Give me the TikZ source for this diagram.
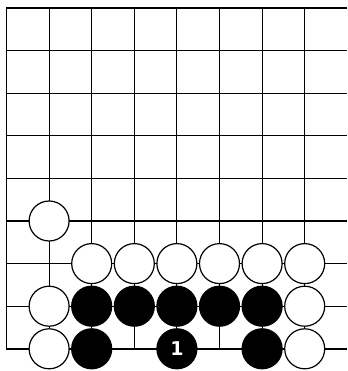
\documentclass[tikz,border=0pt]{standalone}
\usepackage{fontspec}
\newfontfamily\stonefont{DejaVu Sans}
\begin{document}
\begin{tikzpicture}[x=1pt,y=-1pt,
  grid/.style={line width=1.1pt,black},
  edge/.style={line width=1.4pt,black},
  wstone/.style={circle,draw=black,fill=white,line width=1.2pt,minimum size=40pt,inner sep=0pt},
  bstone/.style={circle,draw=black,fill=black,line width=1.2pt,minimum size=40pt,inner sep=0pt,text=white,font=\stonefont\bfseries\fontsize{19}{19}\selectfont}]
\useasboundingbox (0,0) rectangle (347,371);
\def\gx{42.6}
% grid lines
\foreach \i in {1,...,7} \draw[grid] ({6.5+\i*\gx},8) -- ({6.5+\i*\gx},348.8);
\foreach \j in {1,...,7} \draw[grid] (6.5,{8+\j*\gx}) -- (347,{8+\j*\gx});
\draw[edge] (347,8) -- (6.5,8) -- (6.5,348.8) -- (347,348.8);
% stones: col c, row r -> (6.5+c*gx, 8+r*gx)
\node[wstone] (w15) at ({6.5+1*\gx},{8+5*\gx}) {};
\foreach \c in {2,...,7} \node[wstone] (w\c6) at ({6.5+\c*\gx},{8+6*\gx}) {};
\node[wstone] (w17) at ({6.5+1*\gx},{8+7*\gx}) {};
\foreach \c in {2,...,6} \node[bstone] (b\c7) at ({6.5+\c*\gx},{8+7*\gx}) {};
\node[wstone] (w77) at ({6.5+7*\gx},{8+7*\gx}) {};
\node[wstone] (w18) at ({6.5+1*\gx},{8+8*\gx}) {};
\node[bstone] (b28) at ({6.5+2*\gx},{8+8*\gx}) {};
\node[bstone] (b48) at ({6.5+4*\gx},{8+8*\gx}) {1};
\node[bstone] (b68) at ({6.5+6*\gx},{8+8*\gx}) {};
\node[wstone] (w78) at ({6.5+7*\gx},{8+8*\gx}) {};
\end{tikzpicture}
\end{document}
